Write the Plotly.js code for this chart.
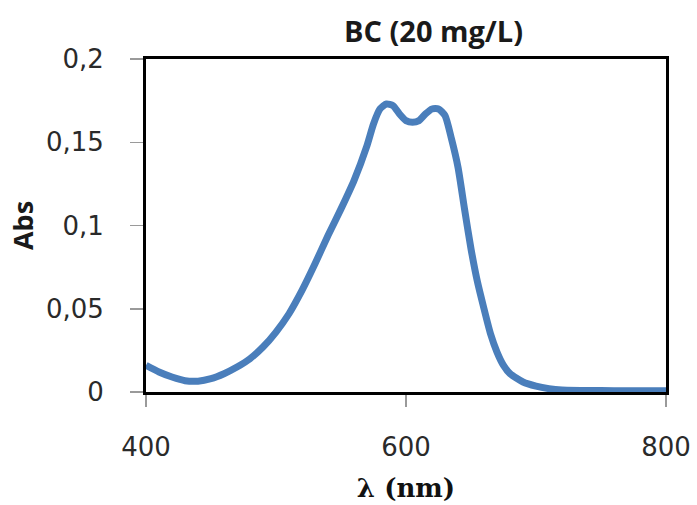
<!DOCTYPE html>
<html>
<head>
<meta charset="utf-8">
<script src="https://cdn.plot.ly/plotly-3.0.1.min.js"></script>
<style>
  html, body { margin: 0; padding: 0; background: #ffffff; }
  #chart { width: 697px; height: 505px; }
</style>
</head>
<body>
<div id="chart"></div>
<script>
// Wavelength (nm) and absorbance
const wavelength = [400, 410, 420, 430, 440, 450, 460, 470, 480, 490, 500, 510, 520, 530, 540, 550, 560, 570, 575, 580, 585, 590, 595, 600, 605, 610, 615, 620, 625, 630, 635, 640, 645, 650, 655, 660, 665, 670, 675, 680, 690, 700, 710, 720, 740, 760, 780, 800];
const absorbance = [0.016, 0.012, 0.009, 0.0068, 0.0065, 0.008, 0.011, 0.015, 0.020, 0.027, 0.036, 0.047, 0.061, 0.077, 0.094, 0.110, 0.127, 0.148, 0.161, 0.170, 0.173, 0.172, 0.167, 0.163, 0.162, 0.163, 0.167, 0.170, 0.170, 0.166, 0.152, 0.135, 0.110, 0.086, 0.066, 0.050, 0.035, 0.024, 0.016, 0.011, 0.006, 0.0035, 0.002, 0.0012, 0.0009, 0.0008, 0.0008, 0.0008];

const chartTitle = 'BC (20 mg/L)';
const xTitle = 'λ (nm)';
const yTitle = 'Abs';
const xTicks = [400, 600, 800];
const yTicks = [0, 0.05, 0.1, 0.15, 0.2];

const trace = {
  x: wavelength,
  y: absorbance,
  type: 'scatter',
  mode: 'lines',
  line: { color: '#4a7ebb', width: 7, shape: 'spline', smoothing: 0.6 },
  hoverinfo: 'x+y'
};

const layout = {
  width: 697,
  height: 505,
  margin: { l: 146, r: 31, t: 59, b: 113, pad: 0 },
  paper_bgcolor: '#ffffff',
  plot_bgcolor: '#ffffff',
  separators: ', ',
  showlegend: false,
  title: {
    text: chartTitle,
    font: { family: 'Open Sans, sans-serif', size: 29, color: '#1a1a1a', weight: 'bold' },
    x: 0.622, xref: 'container', xanchor: 'center',
    y: 0.937, yref: 'container', yanchor: 'middle'
  },
  xaxis: {
    range: [400, 800],
    tickvals: xTicks,
    ticktext: xTicks.map(String),
    ticks: 'outside', ticklen: 12, tickwidth: 1.5, tickcolor: '#9a9a9a',
    ticklabelstandoff: 18,
    showline: true, linecolor: '#000000', linewidth: 3, mirror: true,
    showgrid: false, zeroline: false,
    layer: 'below traces',
    automargin: false,
    tickfont: { family: 'DejaVu Sans, sans-serif', size: 26, color: '#2a2a2a' },
    title: {
      text: xTitle,
      font: { family: 'DejaVu Serif, serif', size: 26, color: '#111111', weight: 'bold' }
    }
  },
  yaxis: {
    range: [0, 0.2],
    tickvals: yTicks,
    ticks: 'outside', ticklen: 13, tickwidth: 1.5, tickcolor: '#9a9a9a',
    ticklabelstandoff: 21,
    showline: true, linecolor: '#000000', linewidth: 3, mirror: true,
    showgrid: false, zeroline: false,
    layer: 'below traces',
    automargin: true,
    tickfont: { family: 'DejaVu Sans, sans-serif', size: 26, color: '#2a2a2a' },
    title: {
      text: yTitle,
      standoff: 5,
      font: { family: 'Open Sans, sans-serif', size: 27, color: '#1a1a1a', weight: 'bold' }
    }
  }
};

Plotly.newPlot('chart', [trace], layout, { displayModeBar: false, staticPlot: true }).then(function (gd) {
  // nudge the x-axis title down to match the reference
  const xt = gd.querySelector('.g-xtitle text');
  if (xt) xt.setAttribute('transform', 'translate(0,9)');
});
</script>
</body>
</html>
